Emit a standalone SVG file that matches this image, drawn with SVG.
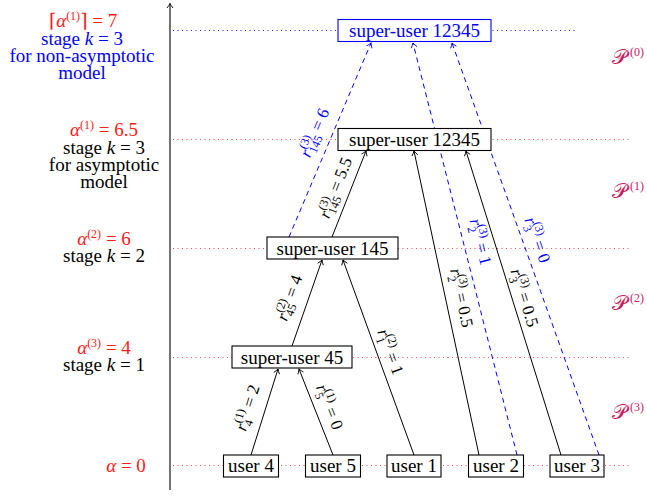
<svg xmlns="http://www.w3.org/2000/svg" width="647" height="497" viewBox="0 0 647 497" font-family="'Liberation Serif', 'DejaVu Serif', serif">
<style>
text{font-family:'Liberation Serif','DejaVu Serif',serif;font-size:19px;}
.lb{font-size:17px;}
.s{font-size:12px;font-style:normal;}
.i{font-style:italic;}
.red{fill:#ff1a1a;}
.blue{fill:#0000ff;}
.blk{fill:#000;}
.P{fill:#c8205f;}
.cal{font-size:21px;}
.box{fill:#fff;stroke:#000;stroke-width:1.1;}
.bbox{fill:#fff;stroke:#0000ff;stroke-width:1.1;}
.solid{stroke:#000;stroke-width:1;fill:none;}
.dash{stroke:#0000ff;stroke-width:1;fill:none;stroke-dasharray:5 4;}
.rdot{stroke:#ff3333;stroke-width:0.9;stroke-dasharray:1 3.5;}
.bdot{stroke:#0000ff;stroke-width:0.9;stroke-dasharray:1 3.5;}
</style>
<defs>
<marker id="ak" viewBox="-6 -4 7 8" refX="0" refY="0" markerWidth="7" markerHeight="8" markerUnits="userSpaceOnUse" orient="auto">
<path d="M-4.5,-3 Q-2,-1 0,0 Q-2,1 -4.5,3" fill="none" stroke="#000" stroke-width="0.9" stroke-dasharray="none"/>
</marker>
<marker id="ab" viewBox="-6 -4 7 8" refX="0" refY="0" markerWidth="7" markerHeight="8" markerUnits="userSpaceOnUse" orient="auto">
<path d="M-4.5,-3 Q-2,-1 0,0 Q-2,1 -4.5,3" fill="none" stroke="#0000ff" stroke-width="0.9" stroke-dasharray="none"/>
</marker>
</defs>
<rect width="647" height="497" fill="#fff"/>

<g id="axis">
<line x1="170" y1="490" x2="170" y2="3.5" stroke="#000" stroke-width="1.1" marker-end="url(#ak)"/>
</g>

<g id="levels">
<line class="bdot" x1="173" y1="30.5" x2="576" y2="30.5"/>
<line class="rdot" x1="173" y1="139.5" x2="631" y2="139.5"/>
<line class="rdot" x1="173" y1="248.5" x2="631" y2="248.5"/>
<line class="rdot" x1="173" y1="357.5" x2="631" y2="357.5"/>
<line class="rdot" x1="173" y1="465.5" x2="631" y2="465.5"/>
</g>

<g id="left-labels" text-anchor="middle">
<text class="red" x="83" y="26.5">⌈<tspan class="i">α</tspan><tspan class="s" dy="-7">(1)</tspan><tspan dy="7">⌉ = 7</tspan></text>
<text class="blue" x="82" y="45">stage <tspan class="i">k</tspan> = 3</text>
<text class="blue" x="82" y="61.5">for non-asymptotic</text>
<text class="blue" x="82" y="78.5">model</text>
<text class="red" x="104" y="135.5"><tspan class="i">α</tspan><tspan class="s" dy="-7">(1)</tspan><tspan dy="7"> = 6.5</tspan></text>
<text class="blk" x="104" y="154">stage <tspan class="i">k</tspan> = 3</text>
<text class="blk" x="104" y="171">for asymptotic</text>
<text class="blk" x="104" y="188">model</text>
<text class="red" x="104" y="245"><tspan class="i">α</tspan><tspan class="s" dy="-7">(2)</tspan><tspan dy="7"> = 6</tspan></text>
<text class="blk" x="104" y="262">stage <tspan class="i">k</tspan> = 2</text>
<text class="red" x="104" y="353.5"><tspan class="i">α</tspan><tspan class="s" dy="-7">(3)</tspan><tspan dy="7"> = 4</tspan></text>
<text class="blk" x="104" y="371">stage <tspan class="i">k</tspan> = 1</text>
<text class="red" x="126" y="472"><tspan class="i">α</tspan> = 0</text>
</g>

<g id="partitions">
<text class="P" x="612" y="64"><tspan class="cal">𝒫</tspan><tspan class="s" dx="3" dy="-8">(0)</tspan></text>
<text class="P" x="612" y="198"><tspan class="cal">𝒫</tspan><tspan class="s" dx="3" dy="-8">(1)</tspan></text>
<text class="P" x="612" y="310"><tspan class="cal">𝒫</tspan><tspan class="s" dx="3" dy="-8">(2)</tspan></text>
<text class="P" x="612" y="419"><tspan class="cal">𝒫</tspan><tspan class="s" dx="3" dy="-8">(3)</tspan></text>
</g>

<g id="connectors">
<line class="solid" x1="251" y1="455" x2="278" y2="369" marker-end="url(#ak)"/>
<line class="solid" x1="333" y1="455" x2="299" y2="369" marker-end="url(#ak)"/>
<line class="solid" x1="292" y1="346" x2="322" y2="260" marker-end="url(#ak)"/>
<line class="solid" x1="414" y1="455" x2="343" y2="260" marker-end="url(#ak)"/>
<line class="solid" x1="332" y1="237" x2="366" y2="151" marker-end="url(#ak)"/>
<line class="solid" x1="479" y1="455" x2="414" y2="151" marker-end="url(#ak)"/>
<line class="solid" x1="561" y1="455" x2="466" y2="151" marker-end="url(#ak)"/>
<line class="dash" x1="289" y1="237" x2="371" y2="43" marker-end="url(#ab)"/>
<line class="dash" x1="517" y1="455" x2="413" y2="43" marker-end="url(#ab)"/>
<line class="dash" x1="599" y1="455" x2="452" y2="43" marker-end="url(#ab)"/>
</g>

<g id="edge-labels" text-anchor="middle">
<text class="lb blk" transform="translate(248,408) rotate(-72.8)" y="5"><tspan class="i">r</tspan><tspan class="s" dy="-7">(1)</tspan><tspan class="s" dx="-14" dy="11">4</tspan><tspan dx="8" dy="-4"> = 2</tspan></text>
<text class="lb blk" transform="translate(329,407) rotate(68.4)" y="5"><tspan class="i">r</tspan><tspan class="s" dy="-7">(1)</tspan><tspan class="s" dx="-14" dy="11">5</tspan><tspan dx="8" dy="-4"> = 0</tspan></text>
<text class="lb blk" transform="translate(290,298) rotate(-70.6)" y="5"><tspan class="i">r</tspan><tspan class="s" dy="-7">(2)</tspan><tspan class="s" dx="-14" dy="11">45</tspan><tspan dx="2" dy="-4"> = 4</tspan></text>
<text class="lb blk" transform="translate(390,352) rotate(70)" y="5"><tspan class="i">r</tspan><tspan class="s" dy="-7">(2)</tspan><tspan class="s" dx="-14" dy="11">1</tspan><tspan dx="8" dy="-4"> = 1</tspan></text>
<text class="lb blk" transform="translate(336,188) rotate(-68.7)" y="5"><tspan class="i">r</tspan><tspan class="s" dy="-7">(3)</tspan><tspan class="s" dx="-14" dy="11">145</tspan><tspan dy="-4"> = 5.5</tspan></text>
<text class="lb blue" transform="translate(315,133) rotate(-67.2)" y="5"><tspan class="i">r</tspan><tspan class="s" dy="-7">(3)</tspan><tspan class="s" dx="-14" dy="11">145</tspan><tspan dy="-4"> = 6</tspan></text>
<text class="lb blk" transform="translate(461,298) rotate(78)" y="5"><tspan class="i">r</tspan><tspan class="s" dy="-7">(3)</tspan><tspan class="s" dx="-14" dy="11">2</tspan><tspan dx="8" dy="-4"> = 0.5</tspan></text>
<text class="lb blk" transform="translate(524,298) rotate(72.7)" y="5"><tspan class="i">r</tspan><tspan class="s" dy="-7">(3)</tspan><tspan class="s" dx="-14" dy="11">3</tspan><tspan dx="8" dy="-4"> = 0.5</tspan></text>
<text class="lb blue" transform="translate(480,242) rotate(75.9)" y="5"><tspan class="i">r</tspan><tspan class="s" dy="-7">(3)</tspan><tspan class="s" dx="-14" dy="11">2</tspan><tspan dx="8" dy="-4"> = 1</tspan></text>
<text class="lb blue" transform="translate(537,240) rotate(70.4)" y="5"><tspan class="i">r</tspan><tspan class="s" dy="-7">(3)</tspan><tspan class="s" dx="-14" dy="11">3</tspan><tspan dx="8" dy="-4"> = 0</tspan></text>
</g>

<g id="su12345-nonasym" text-anchor="middle">
<rect class="bbox" x="338" y="19.5" width="153" height="22"/>
<text class="blue" x="414.5" y="37">super-user 12345</text>
</g>
<g id="su12345-asym" text-anchor="middle">
<rect class="box" x="338" y="128.5" width="153" height="22"/>
<text x="414.5" y="146">super-user 12345</text>
</g>
<g id="su145" text-anchor="middle">
<rect class="box" x="267" y="237" width="131" height="22"/>
<text x="332.5" y="254.5">super-user 145</text>
</g>
<g id="su45" text-anchor="middle">
<rect class="box" x="232" y="346" width="120" height="22"/>
<text x="292" y="363.5">super-user 45</text>
</g>
<g id="user4" text-anchor="middle">
<rect class="box" x="223.5" y="455" width="55" height="22"/>
<text x="251" y="472">user 4</text>
</g>
<g id="user5" text-anchor="middle">
<rect class="box" x="305.5" y="455" width="55" height="22"/>
<text x="333" y="472">user 5</text>
</g>
<g id="user1" text-anchor="middle">
<rect class="box" x="387" y="455" width="54" height="22"/>
<text x="414" y="472">user 1</text>
</g>
<g id="user2" text-anchor="middle">
<rect class="box" x="468.5" y="455" width="55" height="22"/>
<text x="496" y="472">user 2</text>
</g>
<g id="user3" text-anchor="middle">
<rect class="box" x="550" y="455" width="54" height="22"/>
<text x="577" y="472">user 3</text>
</g>
</svg>
